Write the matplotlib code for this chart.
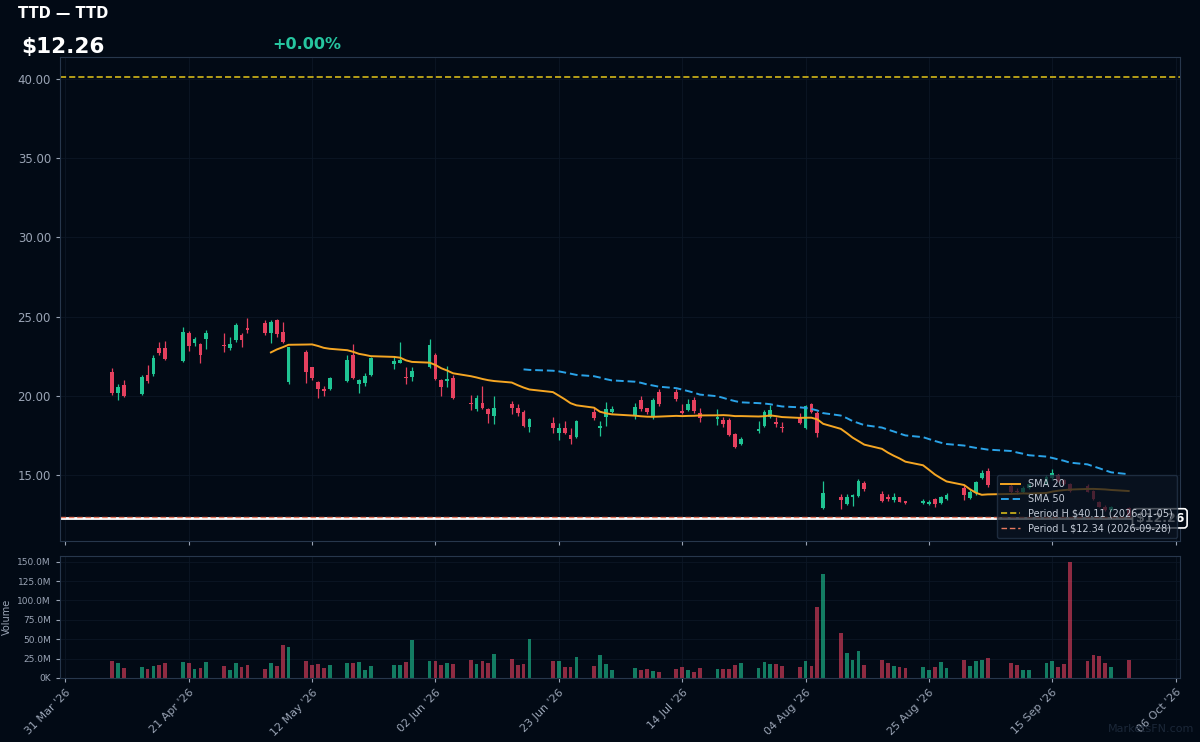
import matplotlib
matplotlib.use('Agg')
import matplotlib.pyplot as plt
import matplotlib.dates as mdates
from matplotlib.ticker import FuncFormatter
import numpy as np
import pandas as pd

# trading days Apr 8 - Sep 28 2026 (US market holidays skipped)
holidays = ['2026-05-25', '2026-06-19', '2026-07-03', '2026-09-07']
dates = pd.bdate_range('2026-04-08', '2026-09-28', freq='C', holidays=holidays)

opens = [21.52, 20.16, 20.68, 20.11, 21.31, 21.36, 23.0, 23.04, 22.22, 23.95, 23.35, 23.27, 23.57, 23.2, 23.0, 23.52, 23.84,
         24.26, 24.58, 23.95, 24.79, 24.05, 20.89, 22.78, 21.79, 20.89, 20.41, 20.41, 20.95, 22.58, 20.73, 20.83, 21.31, 22.0, 22.09, 21.21, 21.17,
         21.84, 22.58, 21.0, 20.93, 21.1, 19.56, 19.15, 19.56, 19.15, 18.72, 19.48, 19.21, 19.0, 18.05, 18.26, 17.67, 17.95, 17.52, 17.38, 19.0, 17.99,
         18.68, 19.0, 18.79, 19.73, 19.21, 18.68, 20.26, 20.26, 19.06, 19.1, 19.73, 18.9, 18.55, 18.47, 18.47, 17.59, 16.94, 17.78, 18.1, 18.68, 18.37, 18.05,
         18.68, 17.95, 19.48, 18.93, 12.9, 13.59, 13.17, 13.63, 13.67, 14.51, 13.8, 13.59, 13.42, 13.59, 13.36, 13.25, 13.17, 13.47, 13.21, 13.48, 14.2,
         13.53, 13.84, 14.79, 15.25, 14.3, 14.0, 13.9, 14.2, 14.45, 14.8, 15.0, 14.7, 14.4, 14.3, 14.0, 13.3, 13.0, 12.8, 12.9]
highs = [21.74, 20.74, 21.0, 21.31, 21.94, 22.58, 23.42, 23.46, 24.32, 24.11, 23.69, 23.31, 24.15, 23.95, 23.69, 24.58, 23.95,
         24.89, 24.79, 24.79, 24.83, 24.68, 23.1, 22.89, 21.84, 20.95, 20.62, 21.21, 22.58, 23.27, 21.04, 21.42, 22.47, 22.51, 23.38, 21.8, 21.84,
         23.57, 22.68, 21.04, 21.88, 21.31, 20.05, 20.05, 20.62, 19.25, 19.99, 19.67, 19.48, 19.1, 18.58, 18.68, 18.26, 18.43, 17.95, 18.47, 19.21, 18.41,
         19.63, 19.36, 19.53, 19.99, 19.25, 19.84, 20.41, 20.41, 19.46, 19.78, 19.94, 19.21, 19.15, 18.68, 18.58, 17.63, 17.42, 18.41, 19.1, 19.42, 18.68, 18.33,
         18.93, 19.42, 19.56, 19.06, 14.62, 13.78, 13.78, 13.78, 14.73, 14.64, 14.01, 13.78, 13.84, 13.63, 13.38, 13.47, 13.42, 13.53, 13.69, 13.84, 14.37,
         14.05, 14.62, 15.32, 15.42, 14.5, 14.2, 14.3, 14.5, 15.0, 15.4, 15.05, 14.77, 14.5, 14.4, 14.05, 13.35, 13.1, 13.05, 12.95]
lows = [20.05, 19.73, 19.9, 20.05, 20.83, 21.27, 22.58, 22.26, 22.15, 22.85, 23.16, 22.05, 22.94, 22.78, 22.9, 23.42, 23.1,
        23.95, 23.84, 23.31, 23.73, 23.31, 20.74, 20.83, 21.0, 19.84, 19.99, 20.37, 20.89, 21.04, 20.16, 20.62, 21.27, 21.69, 22.05, 20.74, 20.95,
        21.74, 21.0, 19.99, 20.54, 19.8, 19.1, 19.06, 19.15, 18.3, 18.2, 18.85, 18.72, 18.05, 17.73, 17.67, 17.21, 17.59, 16.96, 17.34, 18.47, 17.46,
        18.11, 18.93, 18.52, 19.06, 18.83, 18.52, 19.37, 19.69, 18.85, 19.06, 18.93, 18.33, 18.16, 18.05, 17.46, 16.69, 16.89, 17.67, 18.03, 18.58, 18.05, 17.7,
        18.22, 17.89, 18.93, 17.42, 12.85, 12.83, 13.11, 13.06, 13.63, 14.01, 13.28, 13.36, 13.28, 13.28, 13.17, 13.17, 13.11, 12.96, 13.17, 13.42, 13.42,
        13.48, 13.74, 14.75, 14.22, 13.85, 13.8, 13.85, 14.1, 14.35, 14.7, 14.55, 14.35, 13.9, 13.9, 13.4, 12.95, 12.7, 12.7, 12.34]
closes = [20.2, 20.57, 19.99, 21.2, 20.93, 22.37, 22.7, 22.3, 24.05, 23.14, 23.57, 22.58, 23.95, 23.15, 23.25, 24.47, 23.52,
          24.15, 23.98, 24.68, 23.9, 23.38, 23.1, 21.52, 21.1, 20.41, 20.32, 21.1, 22.26, 21.1, 21.0, 21.25, 22.37, 22.2, 22.26, 21.1, 21.57,
          23.21, 21.04, 20.54, 21.04, 19.88, 19.48, 19.88, 19.21, 18.85, 19.25, 19.21, 18.93, 18.11, 18.54, 17.95, 17.95, 17.63, 17.25, 18.41, 18.58, 18.11,
          19.15, 19.15, 19.31, 19.15, 18.96, 19.73, 19.46, 19.78, 18.93, 19.48, 19.06, 18.58, 18.68, 18.2, 17.53, 16.79, 17.3, 17.89, 18.96, 19.1, 18.22, 17.99,
          18.26, 19.36, 19.0, 17.63, 13.84, 13.42, 13.63, 13.74, 14.64, 14.1, 13.38, 13.48, 13.59, 13.31, 13.21, 13.36, 13.31, 13.17, 13.63, 13.74, 13.74,
          13.95, 14.58, 15.11, 14.37, 13.95, 13.9, 14.2, 14.4, 14.85, 15.1, 14.6, 14.4, 14.0, 13.95, 13.45, 13.0, 12.8, 12.95, 12.4]
volumes_m = [21.6, 19.0, 13.0, 14.3, 12.1, 15.1, 17.3, 19.0, 20.8, 19.5, 11.2, 13.0, 20.8, 15.1, 10.8, 19.9, 14.7,
             16.9, 12.1, 19.0, 15.6, 42.8, 40.6, 21.6, 16.9, 18.6, 13.4, 17.3, 19.9, 19.5, 21.2, 10.8, 16.0, 16.9, 16.9, 21.2, 48.4,
             22.5, 22.0, 17.3, 19.0, 18.2, 23.8, 18.6, 21.6, 19.5, 30.3, 24.6, 17.3, 18.6, 50.6, 21.6, 22.5, 14.3, 14.7, 27.2, 15.6, 29.0,
             18.6, 10.8, 13.4, 10.4, 11.7, 8.6, 8.2, 12.1, 13.8, 9.9, 8.2, 13.4, 11.2, 12.1, 12.1, 17.3, 19.0, 13.0, 20.8, 18.6, 18.2, 16.0,
             14.7, 21.6, 16.0, 91.7, 133.6, 57.5, 32.0, 23.3, 34.6, 17.3, 23.8, 19.5, 15.1, 14.3, 13.0, 14.7, 10.8, 13.8, 21.2, 13.0, 23.8,
             16.0, 21.6, 23.3, 25.5, 19.5, 16.4, 10.8, 10.8, 19.5, 21.6, 14.7, 18.2, 149.6, 22.0, 29.0, 27.7, 19.0, 14.3, 22.9]

last_price = 12.26
period_high = 40.11
period_low = 12.34
tick_dates = pd.date_range('2026-03-31', periods=10, freq='21D')

BG = '#020a15'
GRID = '#0c1725'
SPINE = '#27374c'
TXT = '#9aa4b5'
GREEN = '#1fc493'
RED = '#e5405e'

df = pd.DataFrame({'open': opens, 'high': highs, 'low': lows, 'close': closes,
                   'volume': np.array(volumes_m) * 1e6}, index=dates)
df['sma20'] = df['close'].rolling(20).mean()
df['sma50'] = df['close'].rolling(50).mean()

x = mdates.date2num(df.index.to_pydatetime())
up = df['close'].values >= df['open'].values
cols = np.where(up, GREEN, RED)

fig = plt.figure(figsize=(12, 7.42), dpi=100, facecolor=BG)
ax = fig.add_axes([0.05, 0.2709, 0.9333, 0.6523])
axv = fig.add_axes([0.05, 0.0863, 0.9333, 0.1644], sharex=ax)

for a in (ax, axv):
    a.set_facecolor(BG)
    for s in a.spines.values():
        s.set_color(SPINE)
    a.grid(True, color=GRID, lw=0.6)
    a.set_axisbelow(True)
    a.tick_params(colors=TXT, which='both', length=3)

# candles
ax.vlines(x, df['low'], df['high'], colors=cols, lw=0.9, zorder=2)
body = np.maximum(np.abs(df['close'] - df['open']).values, 0.04)
ax.bar(x, body, bottom=np.minimum(df['open'], df['close']).values, width=0.65, color=cols, zorder=3)

ax.plot(x, df['sma20'], color='#f5a623', lw=1.4, label='SMA 20', zorder=3)
ax.plot(x, df['sma50'], color='#2aa3e8', lw=1.4, ls=(0, (4, 2)), label='SMA 50', zorder=3)
ax.axhline(period_high, color='#e6c619', lw=1.1, ls=(0, (4, 2)), label=r'Period H \$40.11 (2026-01-05)')
ax.axhline(last_price, color='white', lw=2.0, zorder=2)
ax.axhline(period_low, color='#e8795f', lw=1.0, ls=(0, (4, 2)), label=r'Period L \$12.34 (2026-09-28)', zorder=2)

ax.text(1.0036, last_price, r'\$12.26', transform=ax.get_yaxis_transform(), ha='right', va='center',
        color='white', fontsize=9, fontweight='bold', clip_on=False, zorder=4,
        bbox=dict(boxstyle='round,pad=0.25', fc=BG, ec='white', lw=1.2))

ax.set_ylim(10.83, 41.39)
ax.set_yticks([15, 20, 25, 30, 35, 40])
ax.yaxis.set_major_formatter(FuncFormatter(lambda v, p: f'{v:.2f}'))
ax.tick_params(axis='y', labelsize=8.5)
ax.tick_params(axis='x', labelbottom=False)

leg = ax.legend(loc='lower right', fontsize=7, facecolor='#0b1522', edgecolor=SPINE,
                framealpha=0.72, labelcolor='#c5ccd8', borderaxespad=0.35)
leg.set_zorder(5)

# volume
axv.bar(x, df['volume'], width=0.65, color=cols, alpha=0.62)
axv.set_ylim(0, 157.4e6)
axv.set_yticks(np.arange(0, 151e6, 25e6))
axv.yaxis.set_major_formatter(FuncFormatter(lambda v, p: '0K' if v == 0 else f'{v / 1e6:.1f}M'))
axv.tick_params(axis='y', labelsize=6.5)
axv.set_ylabel('Volume', color=TXT, fontsize=7)
axv.yaxis.set_label_coords(-0.043, 0.5)

axv.set_xlim(mdates.date2num(pd.Timestamp('2026-03-31')) - 0.9,
             mdates.date2num(pd.Timestamp('2026-10-06')) + 0.73)
axv.set_xticks(mdates.date2num(tick_dates.to_pydatetime()))
axv.xaxis.set_major_formatter(mdates.DateFormatter("%d %b '%y"))
plt.setp(axv.get_xticklabels(), rotation=45, ha='right', rotation_mode='anchor', fontsize=8)

fig.text(0.015, 0.982, 'TTD — TTD', color='white', fontsize=10.5, fontweight='bold', va='center')
fig.text(0.018, 0.937, r'\$12.26', color='white', fontsize=15.5, fontweight='bold', va='center')
fig.text(0.227, 0.94, '+0.00%', color='#26c6a0', fontsize=11.5, fontweight='bold', va='center')
fig.text(0.995, 0.017, 'MarketsFN.com', color='#1b2738', fontsize=8, ha='right', va='center')

fig.savefig('out.png', dpi=100, facecolor=BG)
